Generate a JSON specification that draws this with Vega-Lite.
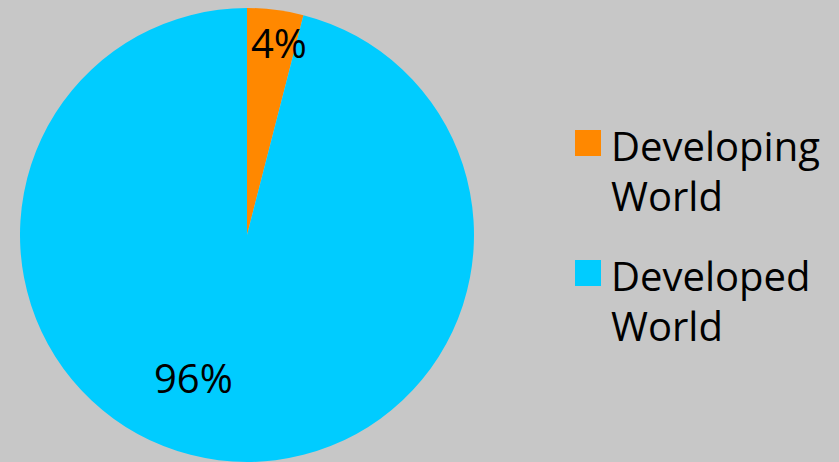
{
  "$schema": "https://vega.github.io/schema/vega-lite/v6.json",
  "width": 494,
  "height": 462,
  "padding": {"top": 4, "left": 0, "right": 345, "bottom": 0},
  "autosize": {"type": "none"},
  "background": "#c7c7c7",
  "config": {"view": {"stroke": null}, "style": {"guide-label": {"lineHeight": 50, "dy": 6}}},
  "data": {
    "values": [
      {"region": "Developing World", "share": 4, "label": "4%", "order": 1},
      {"region": "Developed World", "share": 96, "label": "96%", "order": 2}
    ]
  },
  "encoding": {
    "theta": {"field": "share", "type": "quantitative", "stack": true},
    "order": {"field": "order", "type": "quantitative"}
  },
  "layer": [
    {
      "mark": {"type": "arc", "outerRadius": 227, "stroke": null},
      "encoding": {
        "color": {
          "field": "region",
          "type": "nominal",
          "sort": ["Developing World", "Developed World"],
          "scale": {"domain": ["Developing World", "Developed World"], "range": ["#ff8800", "#00ccff"]},
          "legend": {
            "title": null,
            "orient": "none",
            "legendX": 568,
            "legendY": 119,
            "padding": 0,
            "symbolType": "square",
            "symbolSize": 676,
            "symbolStrokeWidth": 0,
            "labelFont": "Open Sans",
            "labelFontSize": 40,
            "labelColor": "#000000",
            "labelOffset": 3,
            "labelLimit": 400,
            "rowPadding": 34,
            "labelExpr": "split(datum.label, ' ')"
          }
        }
      }
    },
    {
      "mark": {"type": "text", "radius": 191, "dx": 8, "font": "Open Sans", "fontSize": 40, "color": "#000000"},
      "encoding": {
        "text": {"condition": {"test": "datum.order == 1", "field": "label"}, "value": ""}
      }
    },
    {
      "mark": {"type": "text", "radius": 157, "dx": -34, "dy": -10, "font": "Open Sans", "fontSize": 40, "color": "#000000"},
      "encoding": {
        "text": {"condition": {"test": "datum.order == 2", "field": "label"}, "value": ""}
      }
    }
  ]
}
